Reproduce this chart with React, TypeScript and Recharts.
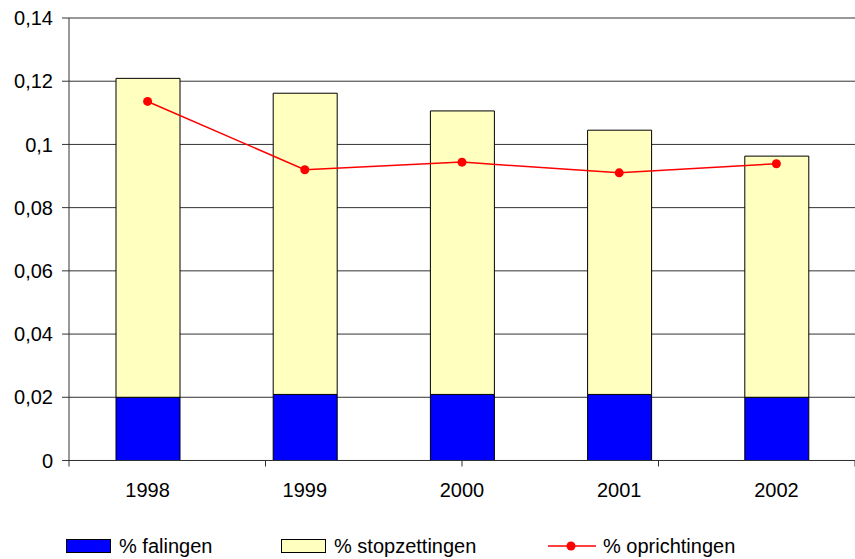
import {
  ComposedChart,
  Bar,
  Line,
  XAxis,
  YAxis,
  CartesianGrid,
  ReferenceLine,
  Legend,
} from "recharts";

const years = ["1998", "1999", "2000", "2001", "2002"];
const falingen = [0.02, 0.0209, 0.0209, 0.0209, 0.02];
const stopzettingen = [0.1009, 0.0953, 0.0897, 0.0836, 0.0763];
const oprichtingen = [0.1136, 0.092, 0.0944, 0.091, 0.0939];
const yTicks = [0, 0.02, 0.04, 0.06, 0.08, 0.1, 0.12, 0.14];
const boundaryTicks = [0, 1, 2, 3, 4];
const legendOrder = ["falingen", "stopzettingen", "oprichtingen"];

const data = years.map((year, i) => ({
  year,
  falingen: falingen[i],
  stopzettingen: stopzettingen[i],
  oprichtingen: oprichtingen[i],
}));

const font = "'Liberation Sans', Arial, sans-serif";

const legendLeft = [66, 281, 548];

const LegendContent = (props: any) => {
  const payload = [...(props.payload || [])].sort(
    (a: any, b: any) => legendOrder.indexOf(a.dataKey) - legendOrder.indexOf(b.dataKey)
  );
  return (
    <div style={{ position: "relative", height: 20, fontFamily: font, fontSize: 20 }}>
      {payload.map((item: any, i: number) => (
        <div
          key={item.value}
          style={{
            position: "absolute",
            left: legendLeft[i],
            top: 0,
            display: "flex",
            alignItems: "center",
            whiteSpace: "nowrap",
          }}
        >
          {item.type === "line" ? (
            <svg width={48} height={14} style={{ marginRight: 7 }}>
              <line x1={0} y1={7} x2={48} y2={7} stroke="#ff0000" strokeWidth={1.5} />
              <circle cx={23} cy={7} r={4.5} fill="#ff0000" />
            </svg>
          ) : (
            <svg width={45} height={14} style={{ marginRight: 8 }}>
              <rect x={0.5} y={0.5} width={44} height={13} fill={item.color} stroke="#000" />
            </svg>
          )}
          <span style={{ color: "#000", lineHeight: "20px" }}>{item.value}</span>
        </div>
      ))}
    </div>
  );
};

export default function App() {
  return (
    <div style={{ position: "absolute", left: 0, top: 0, background: "#fff" }}>
      <ComposedChart
        width={855}
        height={559}
        data={data}
        margin={{ top: 18, right: 0, left: 0, bottom: 58.5 }}
        barSize={64}
      >
        <CartesianGrid vertical={false} stroke="#333" strokeWidth={1} />
        <ReferenceLine y={0.14} stroke="#999" strokeWidth={1.5} />
        <XAxis
          dataKey="year"
          height={0.01}
          tickLine={false}
          tickSize={0}
          tickMargin={22.5}
          axisLine={{ stroke: "#333" }}
          tick={{ fill: "#000", fontSize: 20, fontFamily: font }}
        />
        <XAxis
          xAxisId="grid"
          type="number"
          domain={[0, 5]}
          allowDataOverflow
          ticks={boundaryTicks}
          interval={0}
          tick={() => <g />}
          tickSize={6}
          tickLine={{ stroke: "#333" }}
          axisLine={false}
          height={40}
        />
        <YAxis
          width={69}
          domain={[0, 0.14]}
          ticks={yTicks}
          interval={0}
          tickSize={7}
          tickMargin={9}
          axisLine={{ stroke: "#333" }}
          tickLine={{ stroke: "#333" }}
          tick={{ fill: "#000", fontSize: 20, fontFamily: font }}
          tickFormatter={(v: number) => String(v).replace(".", ",")}
        />
        <Bar
          dataKey="falingen"
          name="% falingen"
          stackId="a"
          fill="#0000ff"
          stroke="#000"
          strokeWidth={1}
          isAnimationActive={false}
        />
        <Bar
          dataKey="stopzettingen"
          name="% stopzettingen"
          stackId="a"
          fill="#ffffc0"
          stroke="#000"
          strokeWidth={1}
          isAnimationActive={false}
        />
        <Line
          dataKey="oprichtingen"
          name="% oprichtingen"
          type="linear"
          stroke="#ff0000"
          strokeWidth={1.5}
          dot={{ r: 4.5, fill: "#ff0000", stroke: "#ff0000", strokeWidth: 0 }}
          activeDot={false}
          isAnimationActive={false}
        />
        <Legend
          layout="horizontal"
          verticalAlign="middle"
          content={<LegendContent />}
          wrapperStyle={{ top: 536, left: 0, width: 855 }}
        />
      </ComposedChart>
    </div>
  );
}
